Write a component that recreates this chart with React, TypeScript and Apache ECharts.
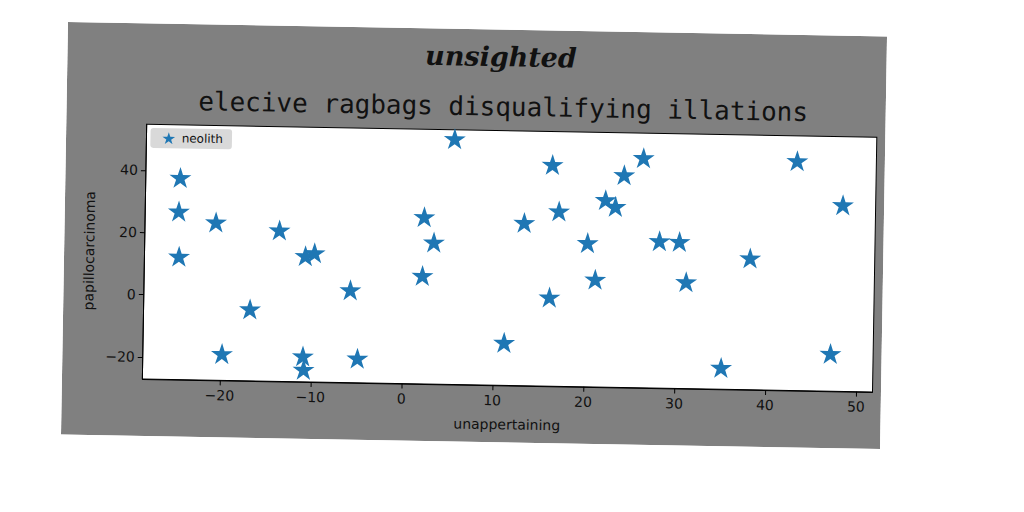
import React, { useEffect, useRef } from "react";
import * as echarts from "echarts";

const seriesName = "neolith";
const xValues = [
  -24.7, -24.8, -24.7, -20.7, -13.7, -10.8, -9.8, -5.8, -16.8, -19.8, -10.9, -10.8,
  -4.9, 5.4, 16.2, 24.1, 2.2, 3.3, 13.2, 17.0, 22.1, 23.2, 20.2, 2.1, 21.1, 16.1,
  11.2, 26.2, 43.1, 48.2, 28.1, 30.3, 38.1, 31.1, 35.1, 47.1,
];
const yValues = [
  37.5, 26.7, 12.2, 23.4, 21.2, 13.1, 14.1, 2.4, -4.3, -18.8, -19.1, -23.4,
  -19.5, 51.5, 43.8, 40.9, 26.3, 18.2, 25.0, 28.9, 32.8, 30.7, 18.9, 7.4, 7.2, 1.2,
  -13.6, 46.5, 46.4, 32.5, 19.9, 19.8, 14.9, 6.9, -20.4, -15.3,
];
const xTicks = [-20, -10, 0, 10, 20, 30, 40, 50];
const yTicks = [-20, 0, 20, 40];
const titleText = "unsighted";
const subtitleText = "elecive ragbags disqualifying illations";
const xName = "unappertaining";
const yName = "papillocarcinoma";

const STAR =
  "path://M0,-1 L0.2245,-0.309 L0.9511,-0.309 L0.3633,0.118 L0.5878,0.809 L0,0.382 L-0.5878,0.809 L-0.3633,0.118 L-0.9511,-0.309 L-0.2245,-0.309 Z";

const fmt = (v: number) => (v < 0 ? "\u2212" + Math.abs(v) : String(v));

export default function App() {
  const ref = useRef<HTMLDivElement>(null);
  useEffect(() => {
    if (!ref.current) return;
    const chart = echarts.init(ref.current, undefined, { renderer: "svg" });
    const data = xValues.map((x, i) => [x, yValues[i]]);
    chart.setOption({
      animation: false,
      backgroundColor: "#808080",
      grid: {
        left: 80.5,
        right: 8.5,
        top: 101,
        bottom: 57,
        show: true,
        backgroundColor: "#ffffff",
        borderColor: "#000",
        borderWidth: 1,
      },
      graphic: [
        {
          type: "text",
          x: 434,
          y: 27,
          style: {
            text: titleText,
            fill: "#111",
            fontSize: 27,
            fontFamily: "DejaVu Serif",
            fontStyle: "italic",
            fontWeight: "bold",
            align: "center",
            verticalAlign: "middle",
          },
        },
        {
          type: "text",
          x: 437,
          y: 77,
          style: {
            text: subtitleText,
            fill: "#111",
            fontSize: 26,
            fontFamily: "DejaVu Sans Mono",
            align: "center",
            verticalAlign: "middle",
          },
        },
      ],
      legend: {
        data: [seriesName],
        left: 84.5,
        top: 104.5,
        backgroundColor: "#d9d9d9",
        borderRadius: 3,
        padding: [4, 9, 4, 12],
        itemWidth: 16,
        itemHeight: 12,
        icon: STAR,
        textStyle: { fontSize: 12, color: "#111", fontFamily: "DejaVu Sans" },
      },
      xAxis: {
        type: "value",
        min: -28.5,
        max: 51.8,
        name: xName,
        nameLocation: "middle",
        nameGap: 32,
        nameTextStyle: { fontSize: 14, color: "#111", fontFamily: "DejaVu Sans" },
        axisLine: { show: true, onZero: false, lineStyle: { color: "#000" } },
        axisTick: { show: true, length: 5, customValues: xTicks, lineStyle: { color: "#000" } },
        axisLabel: {
          customValues: xTicks,
          margin: 8,
          color: "#111",
          fontSize: 14,
          fontFamily: "DejaVu Sans",
          formatter: fmt,
        },
        splitLine: { show: false },
      },
      yAxis: {
        type: "value",
        min: -27.1,
        max: 54.7,
        name: yName,
        nameLocation: "middle",
        nameGap: 48,
        nameTextStyle: { fontSize: 14, color: "#111", fontFamily: "DejaVu Sans" },
        axisLine: { show: true, onZero: false, lineStyle: { color: "#000" } },
        axisTick: { show: true, length: 5, customValues: yTicks, lineStyle: { color: "#000" } },
        axisLabel: {
          customValues: yTicks,
          margin: 8,
          color: "#111",
          fontSize: 14,
          fontFamily: "DejaVu Sans",
          formatter: fmt,
        },
        splitLine: { show: false },
      },
      series: [
        {
          name: seriesName,
          type: "scatter",
          data,
          symbol: STAR,
          symbolSize: [22, 21],
          symbolOffset: [0, -1],
          itemStyle: { color: "#1f77b4", opacity: 1 },
        },
      ],
    });
    return () => chart.dispose();
  }, []);

  return (
    <div
      style={{
        position: "fixed",
        left: 0,
        top: 0,
        width: 1024,
        height: 512,
        background: "#ffffff",
        overflow: "hidden",
      }}
    >
      <div
        style={{
          position: "absolute",
          left: 67.5,
          top: 22,
          width: 820,
          height: 413,
          transformOrigin: "0 0",
          transform: "matrix(0.9988, 0.01768, -0.01695, 0.9988, 0, 0)",
        }}
      >
        <div ref={ref} style={{ width: 820, height: 413 }} />
      </div>
    </div>
  );
}
